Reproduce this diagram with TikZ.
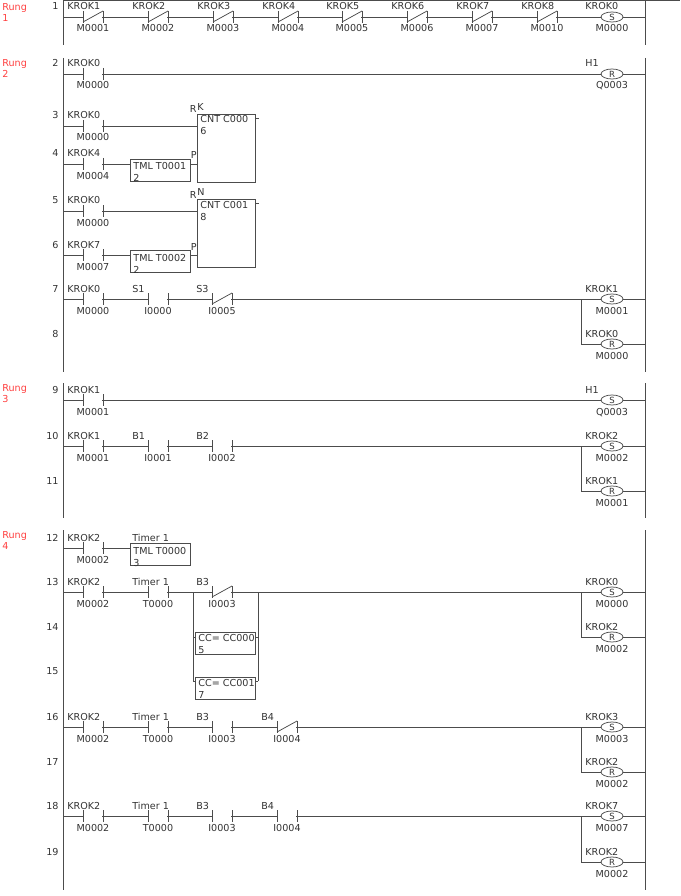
\documentclass[tikz,border=0pt]{standalone}
\usepackage{fontspec}
\setmainfont{DejaVu Sans}
\begin{document}
\begin{tikzpicture}[x=1pt,y=-1pt,line width=0.8pt,
  wire/.style={draw=black!70,line width=0.75pt},
  lbl/.style={font=\fontsize{9.6}{10}\selectfont,text=black!80,inner sep=0pt},
  rung/.style={font=\fontsize{9.6}{11}\selectfont,text=red!75,inner sep=0pt,align=left},
  fbox/.style={draw=black!70,fill=white,line width=0.75pt}]
\useasboundingbox (0,0) rectangle (680,896);
\newcommand\ctc[5]{% x y top bottom nc
  \fill[white] (#1-9,#2-1) rectangle (#1+9,#2+1);
  \draw[wire] (#1-10,#2-6)--(#1-10,#2+6) (#1+10,#2-6)--(#1+10,#2+6);
  \ifnum#5=1 \draw[wire] (#1-10,#2+5)--(#1+10,#2-6);\fi
  \node[lbl,anchor=base west] at (#1-26,#2-7) {#3};
  \node[lbl,anchor=base] at (#1,#2+15) {#4};}
\newcommand\coil[5]{% y letter top bottom branch
  \draw[wire] (581,#1)--(645,#1);
  \draw[fbox] (612,#1) ellipse (11 and 5);
  \node[lbl,font=\fontsize{8.5}{9}\selectfont] at (612,#1) {#2};
  \node[lbl,anchor=base west] at (585,#1-7) {#3};
  \node[lbl,anchor=base] at (612,#1+15) {#4};}
\newcommand\rownum[2]{\node[lbl,anchor=base east] at (59,#1-7) {#2};}
% top line
\draw[wire] (63,0)--(680,0);
% rails
\foreach \a/\b in {0/45,58/372,383/518,530/890}{
  \draw[wire] (63,\a)--(63,\b); \draw[wire] (645,\a)--(645,\b);}
% rung labels
\node[rung,anchor=north west] at (2,3) {Rung\\1};
\node[rung,anchor=north west] at (2,59) {Rung\\2};
\node[rung,anchor=north west] at (2,384) {Rung\\3};
\node[rung,anchor=north west] at (2,531) {Rung\\4};
% Row 1
\rownum{17}{1}
\draw[wire] (63,17)--(645,17);
\ctc{93}{17}{KROK1}{M0001}{1}\ctc{158}{17}{KROK2}{M0002}{1}
\ctc{223}{17}{KROK3}{M0003}{1}\ctc{288}{17}{KROK4}{M0004}{1}
\ctc{352}{17}{KROK5}{M0005}{1}\ctc{417}{17}{KROK6}{M0006}{1}
\ctc{482}{17}{KROK7}{M0007}{1}\ctc{547}{17}{KROK8}{M0010}{1}
\coil{17}{S}{KROK0}{M0000}{0}
% Row 2
\rownum{74}{2}
\draw[wire] (63,74)--(645,74);
\ctc{93}{74}{KROK0}{M0000}{0}
\coil{74}{R}{H1}{Q0003}{0}
% Rows 3-6 counters
\foreach \y/\yy/\n/\c/\k/\m/\kk/\t/\s/\ml in {126/164/3/C000/K/6/KROK4/T0001/M0004/4, 211/255/5/C001/N/8/KROK7/T0002/M0007/6}{
  \rownum{\y}{\n}
  \rownum{\yy}{\ml}
  \draw[wire] (63,\y)--(197,\y);
  \ctc{93}{\y}{KROK0}{M0000}{0}
  \draw[wire] (63,\yy)--(130,\yy) (190,\yy)--(197,\yy);
  \ctc{93}{\yy}{\kk}{\s}{0}
  \draw[fbox] (130,\yy-5) rectangle (190,\yy+17);
  \node[lbl,anchor=base west] at (133,\yy+6) {TML \t};
  \node[lbl,anchor=base west] at (133,\yy+18) {2};
  \draw[fbox] (197,\y-12) rectangle (255,\y+56);
  \draw[wire] (255,\y-8)--(259,\y-8);
  \node[lbl,anchor=base west] at (200,\y-3) {CNT \c};
  \node[lbl,anchor=base west] at (200,\y+9) {\m};
  \node[lbl,anchor=base east] at (197,\y-13) {R};
  \node[lbl,anchor=base west] at (197,\y-15) {\k};
  \node[lbl,anchor=base east] at (197,\yy-5) {P};
}
% Row 7/8
\rownum{299}{7}\rownum{344}{8}
\draw[wire] (63,299)--(645,299) (581,299)--(581,344);
\ctc{93}{299}{KROK0}{M0000}{0}\ctc{158}{299}{S1}{I0000}{0}\ctc{222}{299}{S3}{I0005}{1}
\coil{299}{S}{KROK1}{M0001}{0}
\coil{344}{R}{KROK0}{M0000}{0}
% Row 9
\rownum{400}{9}
\draw[wire] (63,400)--(645,400);
\ctc{93}{400}{KROK1}{M0001}{0}
\coil{400}{S}{H1}{Q0003}{0}
% Row 10/11
\rownum{446}{10}\rownum{491}{11}
\draw[wire] (63,446)--(645,446) (581,446)--(581,491);
\ctc{93}{446}{KROK1}{M0001}{0}\ctc{158}{446}{B1}{I0001}{0}\ctc{222}{446}{B2}{I0002}{0}
\coil{446}{S}{KROK2}{M0002}{0}
\coil{491}{R}{KROK1}{M0001}{0}
% Row 12
\rownum{548}{12}
\draw[wire] (63,548)--(130,548);
\ctc{93}{548}{KROK2}{M0002}{0}
\draw[fbox] (130,543) rectangle (190,565);
\node[lbl,anchor=base west] at (132,541) {Timer 1};
\node[lbl,anchor=base west] at (133,554) {TML T0000};
\node[lbl,anchor=base west] at (133,566) {3};
% Row 13-15
\rownum{592}{13}\rownum{637}{14}\rownum{681}{15}
\draw[wire] (63,592)--(645,592) (581,592)--(581,637);
\draw[wire] (193,592)--(193,681) (258,592)--(258,681)
  (193,637)--(258,637) (193,681)--(258,681);
\ctc{93}{592}{KROK2}{M0002}{0}\ctc{158}{592}{Timer 1}{T0000}{0}\ctc{222}{592}{B3}{I0003}{1}
\draw[fbox] (195,632) rectangle (255,654);
\node[lbl,anchor=base west] at (198,641) {CC= CC000};
\node[lbl,anchor=base west] at (198,653) {5};
\draw[fbox] (195,677) rectangle (255,699);
\node[lbl,anchor=base west] at (198,686) {CC= CC001};
\node[lbl,anchor=base west] at (198,698) {7};
\coil{592}{S}{KROK0}{M0000}{0}
\coil{637}{R}{KROK2}{M0002}{0}
% Row 16/17
\rownum{727}{16}\rownum{772}{17}
\draw[wire] (63,727)--(645,727) (581,727)--(581,772);
\ctc{93}{727}{KROK2}{M0002}{0}\ctc{158}{727}{Timer 1}{T0000}{0}\ctc{222}{727}{B3}{I0003}{0}\ctc{287}{727}{B4}{I0004}{1}
\coil{727}{S}{KROK3}{M0003}{0}
\coil{772}{R}{KROK2}{M0002}{0}
% Row 18/19
\rownum{816}{18}\rownum{862}{19}
\draw[wire] (63,816)--(645,816) (581,816)--(581,862);
\ctc{93}{816}{KROK2}{M0002}{0}\ctc{158}{816}{Timer 1}{T0000}{0}\ctc{222}{816}{B3}{I0003}{0}\ctc{287}{816}{B4}{I0004}{0}
\coil{816}{S}{KROK7}{M0007}{0}
\coil{862}{R}{KROK2}{M0002}{0}
\end{tikzpicture}
\end{document}
